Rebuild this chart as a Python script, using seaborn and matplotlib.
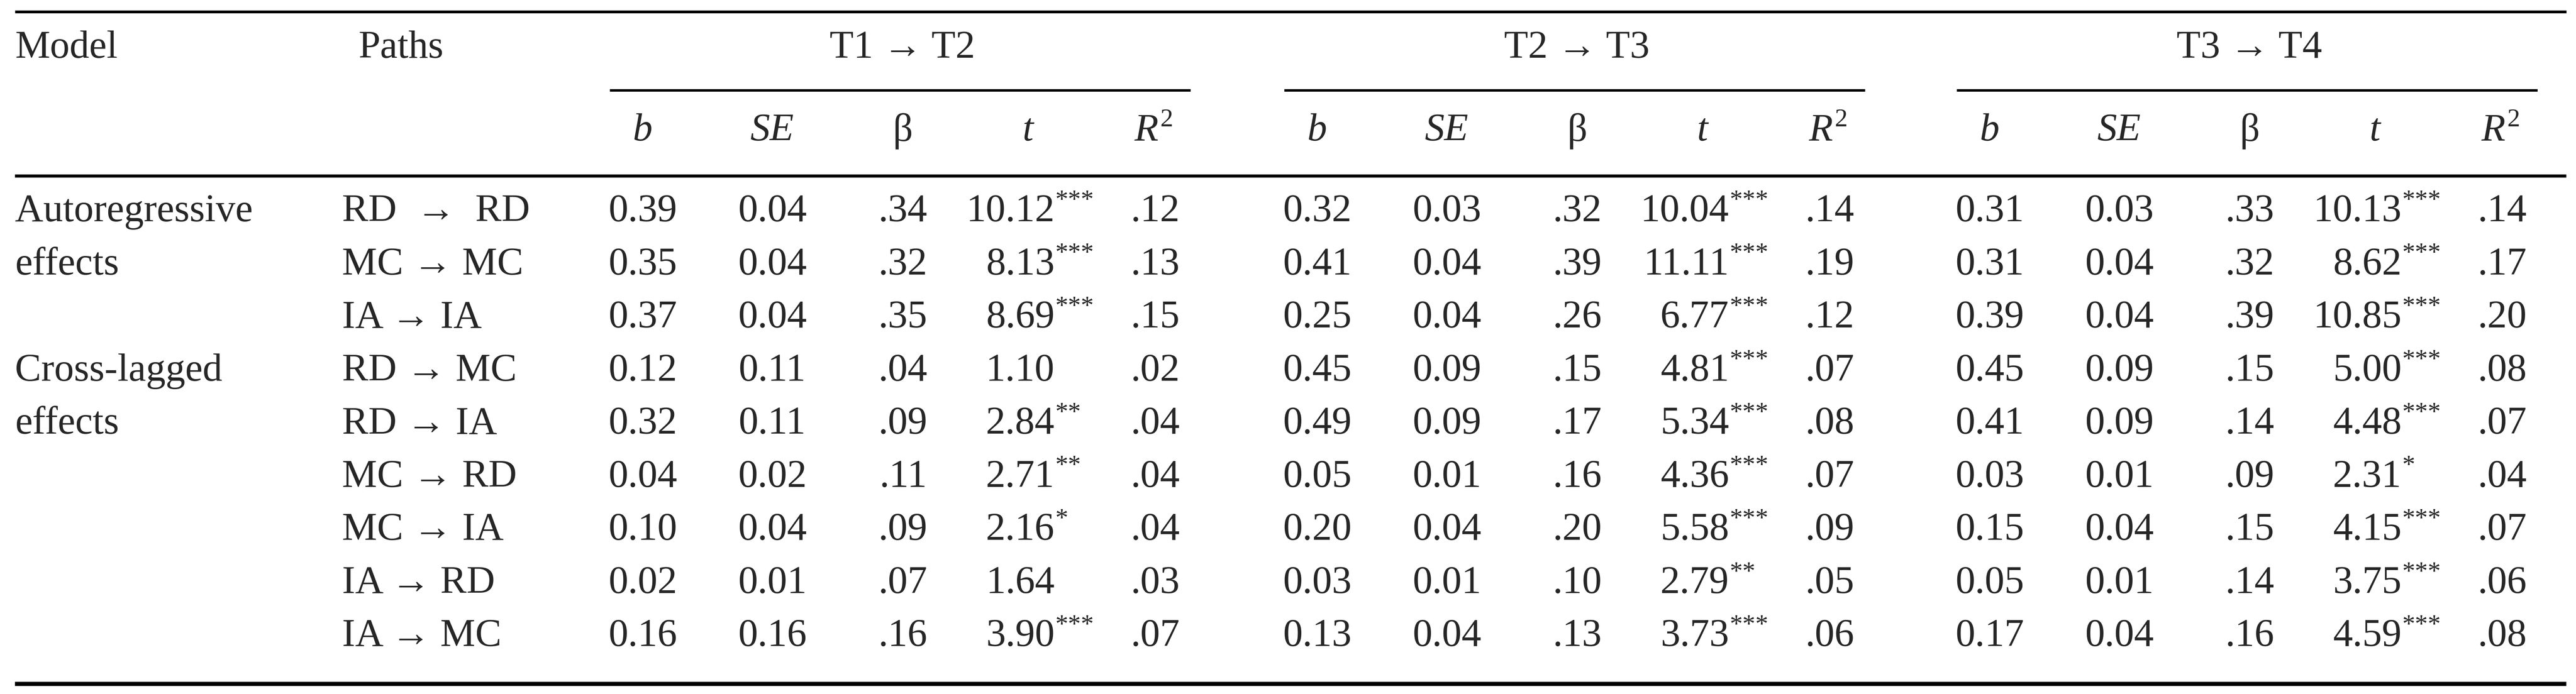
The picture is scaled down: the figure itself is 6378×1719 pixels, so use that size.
import matplotlib
matplotlib.use("Agg")
import matplotlib.pyplot as plt
import seaborn as sns

sns.set_theme(style="white")
plt.rcParams["font.family"] = ["Liberation Serif", "DejaVu Serif"]

# --- table data ---
models = ["Autoregressive", "effects", "", "Cross-lagged", "effects", "", "", "", ""]
paths = ["RD  \u2192  RD", "MC \u2192 MC", "IA \u2192 IA", "RD \u2192 MC", "RD \u2192 IA",
         "MC \u2192 RD", "MC \u2192 IA", "IA \u2192 RD", "IA \u2192 MC"]
periods = ["T1 \u2192 T2", "T2 \u2192 T3", "T3 \u2192 T4"]

b_vals = [
    ["0.39", "0.35", "0.37", "0.12", "0.32", "0.04", "0.10", "0.02", "0.16"],
    ["0.32", "0.41", "0.25", "0.45", "0.49", "0.05", "0.20", "0.03", "0.13"],
    ["0.31", "0.31", "0.39", "0.45", "0.41", "0.03", "0.15", "0.05", "0.17"],
]
se_vals = [
    ["0.04", "0.04", "0.04", "0.11", "0.11", "0.02", "0.04", "0.01", "0.16"],
    ["0.03", "0.04", "0.04", "0.09", "0.09", "0.01", "0.04", "0.01", "0.04"],
    ["0.03", "0.04", "0.04", "0.09", "0.09", "0.01", "0.04", "0.01", "0.04"],
]
beta_vals = [
    [".34", ".32", ".35", ".04", ".09", ".11", ".09", ".07", ".16"],
    [".32", ".39", ".26", ".15", ".17", ".16", ".20", ".10", ".13"],
    [".33", ".32", ".39", ".15", ".14", ".09", ".15", ".14", ".16"],
]
t_vals = [
    ["10.12", "8.13", "8.69", "1.10", "2.84", "2.71", "2.16", "1.64", "3.90"],
    ["10.04", "11.11", "6.77", "4.81", "5.34", "4.36", "5.58", "2.79", "3.73"],
    ["10.13", "8.62", "10.85", "5.00", "4.48", "2.31", "4.15", "3.75", "4.59"],
]
t_stars = [
    ["***", "***", "***", "", "**", "**", "*", "", "***"],
    ["***", "***", "***", "***", "***", "***", "***", "**", "***"],
    ["***", "***", "***", "***", "***", "*", "***", "***", "***"],
]
r2_vals = [
    [".12", ".13", ".15", ".02", ".04", ".04", ".04", ".03", ".07"],
    [".14", ".19", ".12", ".07", ".08", ".07", ".09", ".05", ".06"],
    [".14", ".17", ".20", ".08", ".07", ".04", ".07", ".06", ".08"],
]

W, H = 6378, 1719
fig = plt.figure(figsize=(W / 100, H / 100), dpi=100)
ax = fig.add_axes([0, 0, 1, 1])
ax.set_xlim(0, W)
ax.set_ylim(H, 0)
ax.axis("off")

FS = 70
SUP = 46
row_y0, row_step = 525, 131.5
group_off = [0, 1670, 3335]


def hline(y, x0, x1, lw=5.5):
    ax.plot([x0, x1], [y, y], color="black", linewidth=lw, solid_capstyle="butt")


hline(29, 37, 6354, lw=5)
hline(436, 37, 6354, lw=5.5)
hline(1694, 37, 6354, lw=7.5)

ax.text(37, 120, "Model", fontsize=FS, va="center", ha="left")
ax.text(887, 120, "Paths", fontsize=FS, va="center", ha="left")

for g, off in enumerate(group_off):
    ax.text(2234 + off, 120, periods[g], fontsize=FS, va="center", ha="center")
    hline(224, 1510 + off, 2948 + off, lw=4.5)
    ax.text(1591 + off, 325, "b", fontsize=FS, va="center", ha="center", style="italic")
    ax.text(1912 + off, 325, "SE", fontsize=FS, va="center", ha="center", style="italic")
    ax.text(2235 + off, 325, "\u03b2", fontsize=FS, va="center", ha="center")
    ax.text(2545 + off, 325, "t", fontsize=FS, va="center", ha="center", style="italic")
    ax.text(2868 + off, 325, "R", fontsize=FS, va="center", ha="right", style="italic")
    ax.text(2872 + off, 298, "2", fontsize=SUP, va="center", ha="left")

for i in range(len(paths)):
    y = row_y0 + i * row_step
    if models[i]:
        ax.text(37, y, models[i], fontsize=FS, va="center", ha="left")
    ax.text(847, y, paths[i], fontsize=FS, va="center", ha="left")
    for g, off in enumerate(group_off):
        ax.text(1591 + off, y, b_vals[g][i], fontsize=FS, va="center", ha="center")
        ax.text(1912 + off, y, se_vals[g][i], fontsize=FS, va="center", ha="center")
        ax.text(2296 + off, y, beta_vals[g][i], fontsize=FS, va="center", ha="right")
        ax.text(2611 + off, y, t_vals[g][i], fontsize=FS, va="center", ha="right")
        if t_stars[g][i]:
            ax.text(2613 + off, y - 26, t_stars[g][i], fontsize=SUP, va="center", ha="left")
        ax.text(2800 + off, y, r2_vals[g][i], fontsize=FS, va="center", ha="left")

fig.savefig("out.png", dpi=100, facecolor="white")
